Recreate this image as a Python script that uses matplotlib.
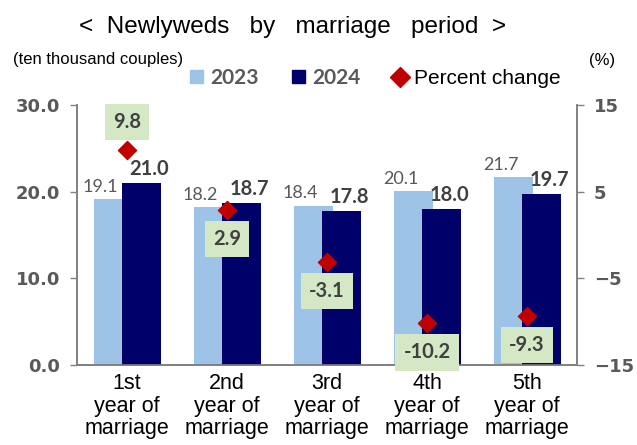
import numpy as np
from matplotlib import pyplot as plt
from matplotlib.lines import Line2D
from matplotlib.patches import Patch

categories = ['1st\nyear of\nmarriage', '2nd\nyear of\nmarriage', '3rd\nyear of\nmarriage',
              '4th\nyear of\nmarriage', '5th\nyear of\nmarriage']
couples_2023 = [19.1, 18.2, 18.4, 20.1, 21.7]
couples_2024 = [21.0, 18.7, 17.8, 18.0, 19.7]
pct_change = [9.8, 2.9, -3.1, -10.2, -9.3]

light_blue = '#9dc3e6'
navy = '#00006b'
red = '#c00000'
green_box = '#d5e8c6'
gray = '#808080'

num_font = 'Lato'
tick_font = 'DejaVu Sans'
txt_font = 'Liberation Sans'

fig = plt.figure(figsize=(6.37, 4.45), dpi=100)
ax = fig.add_axes([0.121, 0.180, 0.785, 0.584])
ax2 = ax.twinx()

x = np.arange(len(categories))
w = 0.39
ax.bar(x - 0.14, couples_2023, w, color=light_blue, zorder=2)
ax.bar(x + 0.14, couples_2024, w, color=navy, zorder=3)

# value labels
for xi, v in zip(x, couples_2023):
    ax.annotate(f'{v:.1f}', (xi - 0.14, v), xytext=(-9, 3), textcoords='offset points',
                ha='center', va='bottom', fontsize=13, color='#595959', family=num_font)
for xi, v in zip(x, couples_2024):
    ax.annotate(f'{v:.1f}', (xi + 0.14, v), xytext=(6, 3), textcoords='offset points',
                ha='center', va='bottom', fontsize=14.5, color='#404040', family=num_font,
                fontweight='bold')

ax2.scatter(x, pct_change, marker='D', s=85, color=red, zorder=5)
for xi, v in zip(x, pct_change):
    dy = 20 if v > 5 else -21
    ax2.annotate(f'{v:.1f}', (xi, v), xytext=(0, dy), textcoords='offset points',
                 ha='center', va='center', fontsize=14.5, color='#404040', family=num_font,
                 fontweight='bold',
                 bbox=dict(boxstyle='square,pad=0.4', fc=green_box, ec='none'))

ax.set_xlim(-0.5, 4.5)
ax.set_ylim(0, 30)
ax2.set_ylim(-15, 15)
ax.set_yticks([0, 10, 20, 30])
ax.set_yticklabels(['0.0', '10.0', '20.0', '30.0'])
ax2.set_yticks([-15, -5, 5, 15])
ax.set_xticks(x)
ax.set_xticklabels(categories, fontsize=15.5, family=txt_font)
for lab in ax.get_xticklabels():
    lab.set_linespacing(1.1)
ax.tick_params(axis='x', length=0, pad=6)

for a in (ax, ax2):
    a.spines['top'].set_visible(False)
    for s in ('left', 'right', 'bottom'):
        a.spines[s].set_color(gray)
        a.spines[s].set_linewidth(1.2)
    a.tick_params(axis='y', length=5, width=1, color=gray, labelsize=13,
                  labelcolor='#595959', pad=7)
for lab in ax.get_yticklabels() + ax2.get_yticklabels():
    lab.set_family(tick_font)
    lab.set_fontweight('bold')

fig.text(0.459, 0.926, '<  Newlyweds   by   marriage   period  >', ha='center',
         va='baseline', fontsize=17.5, family=txt_font)
fig.text(0.02, 0.867, '(ten thousand couples)', ha='left', va='center',
         fontsize=12, family=txt_font)
fig.text(0.966, 0.865, '(%)', ha='right', va='center', fontsize=12, family=txt_font)

handles = [Patch(color=light_blue), Patch(color=navy),
           Line2D([], [], marker='D', color=red, linestyle='none', markersize=10)]
leg = fig.legend(handles, ['2023', '2024', 'Percent change'], loc='center',
                 bbox_to_anchor=(0.589, 0.825), ncol=3, frameon=False, fontsize=15,
                 handlelength=0.63, handleheight=0.63, handletextpad=0.35,
                 columnspacing=1.6, borderpad=0)
for t, f, c in zip(leg.get_texts(), [num_font, num_font, txt_font],
                   ['#595959', '#595959', 'black']):
    t.set_family(f)
    t.set_color(c)
    if f == num_font:
        t.set_fontweight('bold')

fig.savefig('out.png', dpi=100)
